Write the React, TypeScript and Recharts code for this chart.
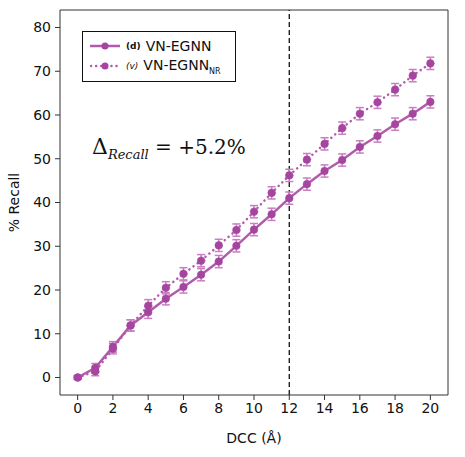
import React from 'react'
import { LineChart, Line, XAxis, YAxis, ErrorBar, ReferenceLine } from 'recharts'

const dcc = [0, 1, 2, 3, 4, 5, 6, 7, 8, 9, 10, 11, 12, 13, 14, 15, 16, 17, 18, 19, 20]
const recallD = [0, 2.2, 7.0, 11.9, 14.9, 18.0, 20.7, 23.5, 26.5, 30.1, 33.8, 37.3, 41.0, 44.2, 47.2, 49.7, 52.7, 55.2, 57.9, 60.3, 63.0]
const recallV = [0, 1.4, 6.6, 11.9, 16.4, 20.5, 23.7, 26.7, 30.2, 33.7, 37.9, 42.2, 46.2, 49.8, 53.4, 57.0, 60.3, 62.9, 65.8, 69.0, 71.8]
const errD = [0.4, 1.0, 1.2, 1.3, 1.4, 1.4, 1.4, 1.4, 1.4, 1.4, 1.4, 1.4, 1.4, 1.4, 1.4, 1.4, 1.4, 1.4, 1.4, 1.4, 1.4]
const errV = [0.4, 1.0, 1.2, 1.3, 1.4, 1.4, 1.4, 1.4, 1.4, 1.4, 1.4, 1.4, 1.4, 1.4, 1.4, 1.4, 1.4, 1.4, 1.4, 1.4, 1.4]
const xTicks = [0, 2, 4, 6, 8, 10, 12, 14, 16, 18, 20]
const yTicks = [0, 10, 20, 30, 40, 50, 60, 70, 80]
const xDomain = [-1, 21]
const yDomain = [-4, 84]

const data = dcc.map((x, i) => ({ x, d: recallD[i], v: recallV[i], ed: errD[i], ev: errV[i] }))

const MARK = '#a5459f'
const LINE = '#b35aac'
const ERR = '#c87ec1'
const tickStyle = { fontSize: 14, fill: '#111', fontFamily: 'DejaVu Sans' }

function LegendBox() {
  return (
    <div style={{ position: 'absolute', left: 82, top: 31, border: '1.5px solid #111', width: 154, height: 51, boxSizing: 'border-box', background: '#fff', fontFamily: 'DejaVu Sans', color: '#111', padding: '4px 0 0 7px' }}>
      <div style={{ display: 'flex', alignItems: 'center', height: 20 }}>
        <svg width={30} height={10}>
          <line x1={0} y1={5} x2={30} y2={5} stroke={LINE} strokeWidth={2.5} />
          <circle cx={15} cy={5} r={3.5} fill={MARK} />
        </svg>
        <span style={{ fontSize: 9, fontWeight: 'bold', margin: '0 5px 0 6px' }}>(d)</span>
        <span style={{ fontSize: 14 }}>VN-EGNN</span>
      </div>
      <div style={{ display: 'flex', alignItems: 'center', height: 20 }}>
        <svg width={30} height={10}>
          <line x1={1} y1={5} x2={30} y2={5} stroke={LINE} strokeWidth={2.5} strokeDasharray="0.1 5" strokeLinecap="round" />
          <circle cx={15} cy={5} r={3.5} fill={MARK} />
        </svg>
        <span style={{ fontSize: 9, fontStyle: 'italic', margin: '0 5px 0 6px' }}>(v)</span>
        <span style={{ fontSize: 14 }}>VN-EGNN<sub style={{ fontSize: 8 }}>NR</sub></span>
      </div>
    </div>
  )
}

export default function App() {
  return (
    <div style={{ position: 'absolute', left: 0, top: 0, width: 465, height: 457, background: '#fff' }}>
      <LineChart width={465} height={457} data={data} margin={{ top: 10, right: 17, left: 0, bottom: 0 }}>
        <XAxis
          dataKey="x"
          type="number"
          domain={xDomain}
          ticks={xTicks}
          height={62}
          tick={tickStyle}
          tickSize={5}
          tickMargin={3}
          stroke="#333"
          label={{ value: 'DCC (Å)', position: 'insideBottom', offset: 14, style: { fontSize: 14, fill: '#111', fontFamily: 'DejaVu Sans' } }}
        />
        <YAxis
          type="number"
          domain={yDomain}
          ticks={yTicks}
          width={60}
          tick={tickStyle}
          tickSize={5}
          tickMargin={4}
          stroke="#333"
          label={{ value: '% Recall', angle: -90, position: 'insideLeft', offset: 14, style: { fontSize: 14, fill: '#111', fontFamily: 'DejaVu Sans', textAnchor: 'middle' } }}
        />
        <ReferenceLine y={yDomain[1]} stroke="#333" strokeWidth={1} />
        <ReferenceLine x={xDomain[1]} stroke="#333" strokeWidth={1} />
        <ReferenceLine x={12} stroke="#111" strokeWidth={1.3} strokeDasharray="5 3" />
        <Line
          dataKey="d"
          name="VN-EGNN"
          stroke={LINE}
          strokeWidth={2.5}
          dot={{ r: 3.8, fill: MARK, stroke: MARK, strokeWidth: 0.5 }}
          isAnimationActive={false}
        >
          <ErrorBar dataKey="ed" width={4} stroke={ERR} strokeWidth={1.5} direction="y" />
        </Line>
        <Line
          dataKey="v"
          name="VN-EGNN NR"
          stroke={LINE}
          strokeWidth={2.5}
          strokeDasharray="0.1 5"
          strokeLinecap="round"
          dot={{ r: 3.8, fill: MARK, stroke: MARK, strokeWidth: 0.5, strokeDasharray: '0' }}
          isAnimationActive={false}
        >
          <ErrorBar dataKey="ev" width={4} stroke={ERR} strokeWidth={1.5} direction="y" />
        </Line>
      </LineChart>
      <LegendBox />
      <div style={{ position: 'absolute', left: 92, top: 134, fontFamily: 'DejaVu Serif', color: '#111', whiteSpace: 'nowrap' }}>
        <span style={{ fontSize: 22 }}>Δ</span>
        <span style={{ fontSize: 13, fontStyle: 'italic', position: 'relative', top: 5 }}>Recall</span>
        <span style={{ fontSize: 20 }}> = +5.2%</span>
      </div>
    </div>
  )
}
